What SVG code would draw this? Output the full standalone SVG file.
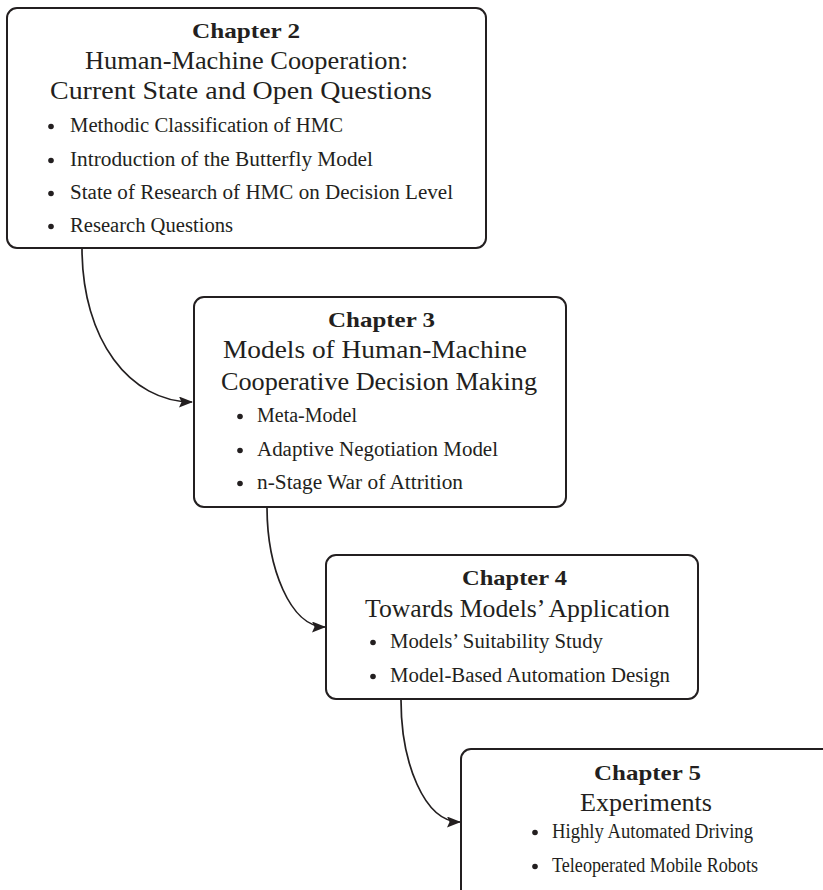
<svg xmlns="http://www.w3.org/2000/svg" width="823" height="890" viewBox="0 0 823 890">
  <style>
    .box { fill: #ffffff; stroke: #231f20; stroke-width: 2; }
    .link { fill: none; stroke: #231f20; stroke-width: 1.7; }
    text { font-family: "Liberation Serif", "Times New Roman", serif; fill: #231f20; }
    .chap { font-weight: bold; font-size: 21px; }
    .title { font-size: 24.5px; }
    .item { font-size: 20.5px; }
    .dot { fill: #231f20; }
  </style>
  <defs>
    <marker id="tip" viewBox="0 0 14 11" refX="13" refY="5.5" markerWidth="14" markerHeight="11" markerUnits="userSpaceOnUse" orient="auto">
      <path d="M0,0 L14,5.5 L0,11 L2.5,5.5 Z" fill="#231f20"/>
    </marker>
  </defs>

  <!-- Connectors between chapters -->
  <g id="connectors">
    <path class="link" d="M82,248 C82,340 130,402 192,402" marker-end="url(#tip)"/>
    <path class="link" d="M267,507 C267,567 290,627 325,627" marker-end="url(#tip)"/>
    <path class="link" d="M401,700 C401,762 424,822 460,822" marker-end="url(#tip)"/>
  </g>

  <!-- Chapter 2 -->
  <g id="chapter2">
    <rect class="box" x="7" y="8" width="479" height="240" rx="10"/>
    <text class="chap" x="192" y="38" textLength="108" lengthAdjust="spacingAndGlyphs">Chapter 2</text>
    <text class="title" x="85" y="69" textLength="323" lengthAdjust="spacingAndGlyphs">Human-Machine Cooperation:</text>
    <text class="title" x="50" y="99" textLength="382" lengthAdjust="spacingAndGlyphs">Current State and Open Questions</text>
    <circle class="dot" cx="51" cy="126.5" r="2.8"/>
    <text class="item" x="70" y="132" textLength="273" lengthAdjust="spacingAndGlyphs">Methodic Classification of HMC</text>
    <circle class="dot" cx="51" cy="160.5" r="2.8"/>
    <text class="item" x="70" y="166" textLength="303" lengthAdjust="spacingAndGlyphs">Introduction of the Butterfly Model</text>
    <circle class="dot" cx="51" cy="193.5" r="2.8"/>
    <text class="item" x="70" y="199" textLength="383" lengthAdjust="spacingAndGlyphs">State of Research of HMC on Decision Level</text>
    <circle class="dot" cx="51" cy="226.5" r="2.8"/>
    <text class="item" x="70" y="232" textLength="163" lengthAdjust="spacingAndGlyphs">Research Questions</text>
  </g>

  <!-- Chapter 3 -->
  <g id="chapter3">
    <rect class="box" x="194" y="297" width="372" height="210" rx="10"/>
    <text class="chap" x="328" y="327" textLength="107" lengthAdjust="spacingAndGlyphs">Chapter 3</text>
    <text class="title" x="223" y="358" textLength="304" lengthAdjust="spacingAndGlyphs">Models of Human-Machine</text>
    <text class="title" x="221" y="390" textLength="316" lengthAdjust="spacingAndGlyphs">Cooperative Decision Making</text>
    <circle class="dot" cx="240" cy="416.5" r="2.8"/>
    <text class="item" x="257" y="422" textLength="100" lengthAdjust="spacingAndGlyphs">Meta-Model</text>
    <circle class="dot" cx="240" cy="450.5" r="2.8"/>
    <text class="item" x="257" y="456" textLength="241" lengthAdjust="spacingAndGlyphs">Adaptive Negotiation Model</text>
    <circle class="dot" cx="240" cy="483.5" r="2.8"/>
    <text class="item" x="257" y="489" textLength="206" lengthAdjust="spacingAndGlyphs">n-Stage War of Attrition</text>
  </g>

  <!-- Chapter 4 -->
  <g id="chapter4">
    <rect class="box" x="326" y="555" width="372" height="144" rx="10"/>
    <text class="chap" x="462" y="585" textLength="105" lengthAdjust="spacingAndGlyphs">Chapter 4</text>
    <text class="title" x="365" y="617" textLength="305" lengthAdjust="spacingAndGlyphs">Towards Models’ Application</text>
    <circle class="dot" cx="373" cy="642.5" r="2.8"/>
    <text class="item" x="390" y="648" textLength="213" lengthAdjust="spacingAndGlyphs">Models’ Suitability Study</text>
    <circle class="dot" cx="373" cy="676.5" r="2.8"/>
    <text class="item" x="390" y="682" textLength="280" lengthAdjust="spacingAndGlyphs">Model-Based Automation Design</text>
  </g>

  <!-- Chapter 5 (box runs past the page edge) -->
  <g id="chapter5">
    <rect class="box" x="461" y="749" width="400" height="200" rx="10"/>
    <text class="chap" x="594" y="780" textLength="107" lengthAdjust="spacingAndGlyphs">Chapter 5</text>
    <text class="title" x="580" y="811" textLength="132" lengthAdjust="spacingAndGlyphs">Experiments</text>
    <circle class="dot" cx="535" cy="832.5" r="2.8"/>
    <text class="item" x="552" y="838" textLength="201" lengthAdjust="spacingAndGlyphs">Highly Automated Driving</text>
    <circle class="dot" cx="535" cy="866.5" r="2.8"/>
    <text class="item" x="552" y="872" textLength="206" lengthAdjust="spacingAndGlyphs">Teleoperated Mobile Robots</text>
  </g>
</svg>
